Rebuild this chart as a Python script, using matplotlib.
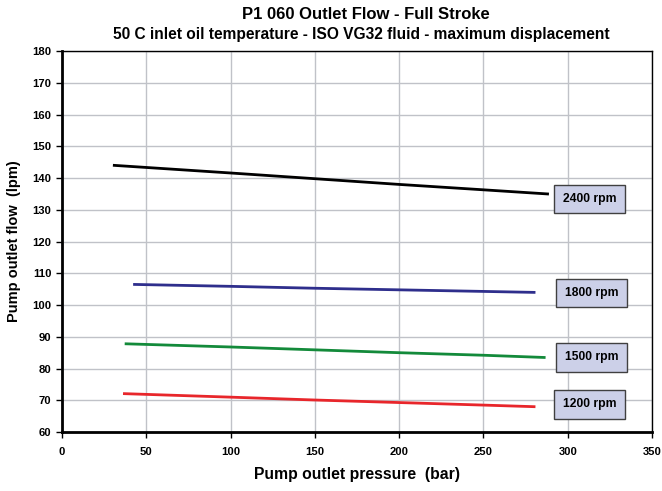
import numpy as np
import matplotlib.pyplot as plt

plt.rcParams["font.family"] = ["Liberation Sans", "DejaVu Sans"]
plt.rcParams["font.weight"] = "bold"

# Data (pressure in bar, flow in lpm)
p_2400 = [31, 100, 150, 200, 250, 288]
q_2400 = [144.0, 141.6, 139.8, 138.0, 136.3, 135.0]
p_1800 = [43, 100, 150, 200, 250, 280]
q_1800 = [106.5, 105.9, 105.3, 104.8, 104.3, 104.0]
p_1500 = [38, 100, 150, 200, 250, 286]
q_1500 = [87.8, 86.8, 85.9, 85.0, 84.2, 83.5]
p_1200 = [37, 100, 150, 200, 250, 280]
q_1200 = [72.1, 71.0, 70.1, 69.3, 68.5, 68.0]

speeds = ["2400 rpm", "1800 rpm", "1500 rpm", "1200 rpm"]
label_x = [313, 314, 314, 313]
label_y = [133.4, 103.8, 83.6, 68.8]
colors = ["black", "#2e2e8c", "#138a3a", "#e8262b"]

fig = plt.figure(figsize=[6.62, 4.91], dpi=100)
ax = fig.add_axes([0.0937, 0.120, 0.8913, 0.776])

series = [(p_2400, q_2400), (p_1800, q_1800), (p_1500, q_1500), (p_1200, q_1200)]
for (p, q), c in zip(series, colors):
    ax.plot(p, q, color=c, lw=2, zorder=3)

for txt, lx, ly in zip(speeds, label_x, label_y):
    ax.text(lx, ly, txt, ha="center", va="center", fontsize=8.7, fontweight="bold",
            zorder=4,
            bbox=dict(boxstyle="square,pad=0.7", fc="#ccd0e8", ec="#404040", lw=1))

ax.set_xlim(0, 350)
ax.set_ylim(60, 180)
ax.set_xticks(np.arange(0, 351, 50))
ax.set_yticks(np.arange(60, 181, 10))
ax.grid(color="#c0c2c8", lw=1)
ax.set_axisbelow(True)
for s in ax.spines.values():
    s.set_color("black")
    s.set_linewidth(1)
ax.spines["left"].set_linewidth(2)
ax.spines["bottom"].set_linewidth(2)
ax.tick_params(labelsize=8.1, length=4, width=1)
ax.tick_params(axis="x", pad=7)

ax.set_xlabel("Pump outlet pressure  (bar)", fontsize=11.3, fontweight="bold", labelpad=7)
ax.set_ylabel("Pump outlet flow  (lpm)", fontsize=10.5, fontweight="bold", labelpad=8)

fig.text(0.553, 0.971, "P1 060 Outlet Flow - Full Stroke", ha="center", va="center",
         fontsize=12, fontweight="bold")
fig.text(0.546, 0.929, "50 C inlet oil temperature - ISO VG32 fluid - maximum displacement",
         ha="center", va="center", fontsize=11.2, fontweight="bold")

plt.savefig("out.png")
